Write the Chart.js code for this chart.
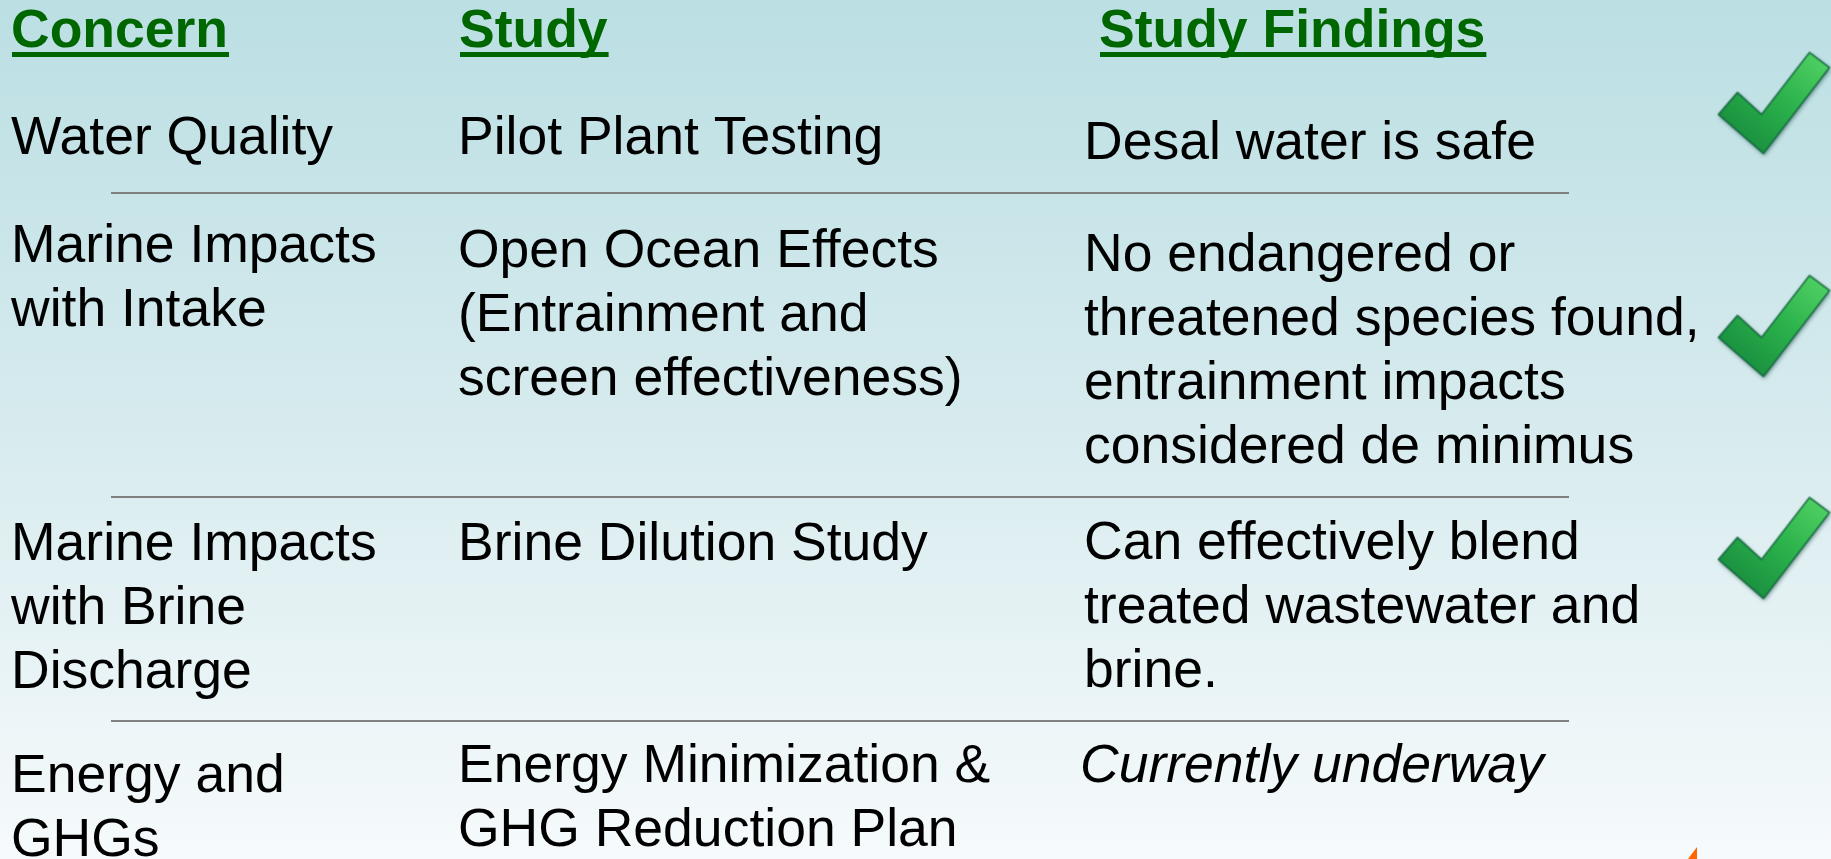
<!DOCTYPE html>
<html>
<head>
<meta charset="utf-8">
<title>Desal concerns and study findings</title>
<script src="https://cdn.jsdelivr.net/npm/chart.js@4.4.0/dist/chart.umd.min.js"></script>
<style>
    html, body { margin: 0; padding: 0; overflow: hidden; background: #fff; }
    #wrap { width: 1831px; height: 859px; position: relative; }
</style>
</head>
<body>
<div id="wrap"><canvas id="slide"></canvas></div>
<script>
// Table content
const headers = ['Concern', 'Study', 'Study Findings'];
const concerns = [
    ['Water Quality'],
    ['Marine Impacts', 'with Intake'],
    ['Marine Impacts', 'with Brine', 'Discharge'],
    ['Energy and', 'GHGs']
];
const studies = [
    ['Pilot Plant Testing'],
    ['Open Ocean Effects', '(Entrainment and', 'screen effectiveness)'],
    ['Brine Dilution Study'],
    ['Energy Minimization &', 'GHG Reduction Plan']
];
const findings = [
    ['Desal water is safe'],
    ['No endangered or', 'threatened species found,', 'entrainment impacts', 'considered de minimus'],
    ['Can effectively blend', 'treated wastewater and', 'brine.'],
    ['Currently underway']
];
const studyStatus = ['done', 'done', 'done', 'underway'];

// Layout (slide units, same as pixels of the 1831x859 slide)
const FONT = '"Liberation Sans", Arial, sans-serif';
const FONT_SIZE = 53.5;
const LINE_H = 64;
const headerX = [11, 459, 1099];
const headerBase = 47;
const colX = [11, 458, 1084];
const rowBase = [[154, 154, 159], [262, 267, 271], [560, 560, 559], [792, 782, 782]];
const ruleY = [193, 497, 721];
const ruleX = [111, 1569];
const checkX = 1774;
const checkY = [103, 326, 548];

// Build the green check mark used as point style
function makeCheck() {
    const c = document.createElement('canvas');
    c.width = 123;
    c.height = 113;
    const g = c.getContext('2d');
    g.translate(6, 6);
    const pts = [[19, 40], [43, 62], [91, 0], [111, 15], [45, 101], [0, 62]];
    g.beginPath();
    pts.forEach((p, i) => i ? g.lineTo(p[0], p[1]) : g.moveTo(p[0], p[1]));
    g.closePath();
    const grad = g.createLinearGradient(100, 5, 20, 100);
    grad.addColorStop(0, '#4fcf62');
    grad.addColorStop(0.45, '#2bb24c');
    grad.addColorStop(1, '#17893d');
    g.shadowColor = 'rgba(0, 55, 45, 0.55)';
    g.shadowBlur = 4;
    g.shadowOffsetX = 1;
    g.shadowOffsetY = 2;
    g.fillStyle = grad;
    g.fill();
    g.shadowColor = 'transparent';
    g.lineJoin = 'round';
    g.lineWidth = 2;
    g.strokeStyle = 'rgba(16, 100, 60, 0.75)';
    g.stroke();
    return c;
}

// Background, rules and table text
const slidePlugin = {
    id: 'slide',
    beforeDraw(chart) {
        const { ctx, width, height } = chart;
        const bg = ctx.createLinearGradient(0, 0, 0, height);
        bg.addColorStop(0, '#bbdfe3');
        bg.addColorStop(0.5, '#d7ebee');
        bg.addColorStop(1, '#f6fafc');
        ctx.save();
        ctx.fillStyle = bg;
        ctx.fillRect(0, 0, width, height);
        ctx.restore();
    },
    beforeDatasetsDraw(chart) {
        const { ctx } = chart;
        const sx = chart.scales.x, sy = chart.scales.y;
        ctx.save();
        ctx.strokeStyle = '#808080';
        ctx.lineWidth = 2;
        ruleY.forEach(v => {
            const y = sy.getPixelForValue(v);
            ctx.beginPath();
            ctx.moveTo(sx.getPixelForValue(ruleX[0]), y);
            ctx.lineTo(sx.getPixelForValue(ruleX[1]), y);
            ctx.stroke();
        });
        ctx.restore();
    },
    afterDatasetsDraw(chart) {
        const { ctx } = chart;
        const sx = chart.scales.x, sy = chart.scales.y;
        ctx.save();
        ctx.textBaseline = 'alphabetic';
        ctx.textAlign = 'left';

        // column headers, bold green and underlined
        ctx.fillStyle = '#006600';
        ctx.font = `bold ${FONT_SIZE}px ${FONT}`;
        headers.forEach((h, i) => {
            const x = sx.getPixelForValue(headerX[i]);
            ctx.fillText(h, x, sy.getPixelForValue(headerBase));
            const w = ctx.measureText(h).width;
            const top = sy.getPixelForValue(headerBase + 5);
            ctx.fillRect(x + 1, top, w, sy.getPixelForValue(headerBase + 10) - top);
        });

        // body cells
        ctx.fillStyle = '#000000';
        const cols = [concerns, studies, findings];
        cols.forEach((col, c) => {
            col.forEach((lines, r) => {
                const italic = c === 2 && studyStatus[r] === 'underway';
                ctx.font = `${italic ? 'italic ' : ''}${FONT_SIZE}px ${FONT}`;
                const x = sx.getPixelForValue(colX[c] - (italic ? 4 : 0));
                lines.forEach((t, k) => {
                    ctx.fillText(t, x, sy.getPixelForValue(rowBase[r][c] + k * LINE_H));
                });
            });
        });
        ctx.restore();
    },
    afterDraw(chart) {
        // small orange corner of the logo peeking in at the bottom
        const { ctx } = chart;
        const sx = chart.scales.x, sy = chart.scales.y;
        ctx.save();
        ctx.fillStyle = '#ff6600';
        ctx.beginPath();
        ctx.moveTo(sx.getPixelForValue(1688), sy.getPixelForValue(859));
        ctx.lineTo(sx.getPixelForValue(1697), sy.getPixelForValue(847));
        ctx.lineTo(sx.getPixelForValue(1697), sy.getPixelForValue(859));
        ctx.closePath();
        ctx.fill();
        ctx.restore();
    }
};

const checkImg = makeCheck();
const checkPoints = studyStatus
    .map((s, i) => s === 'done' ? { x: checkX, y: checkY[i] } : null)
    .filter(p => p);

new Chart(document.getElementById('slide'), {
    type: 'scatter',
    data: {
        datasets: [{
            label: 'Completed',
            data: checkPoints,
            pointStyle: checkImg,
            pointRadius: 1,
            clip: false
        }]
    },
    options: {
        responsive: true,
        maintainAspectRatio: false,
        animation: false,
        events: [],
        layout: { padding: 0, autoPadding: false },
        plugins: {
            legend: { display: false },
            tooltip: { enabled: false }
        },
        scales: {
            x: { type: 'linear', min: 0, max: 1831, display: false },
            y: { type: 'linear', min: 0, max: 859, reverse: true, display: false }
        }
    },
    plugins: [slidePlugin]
});
</script>
</body>
</html>
